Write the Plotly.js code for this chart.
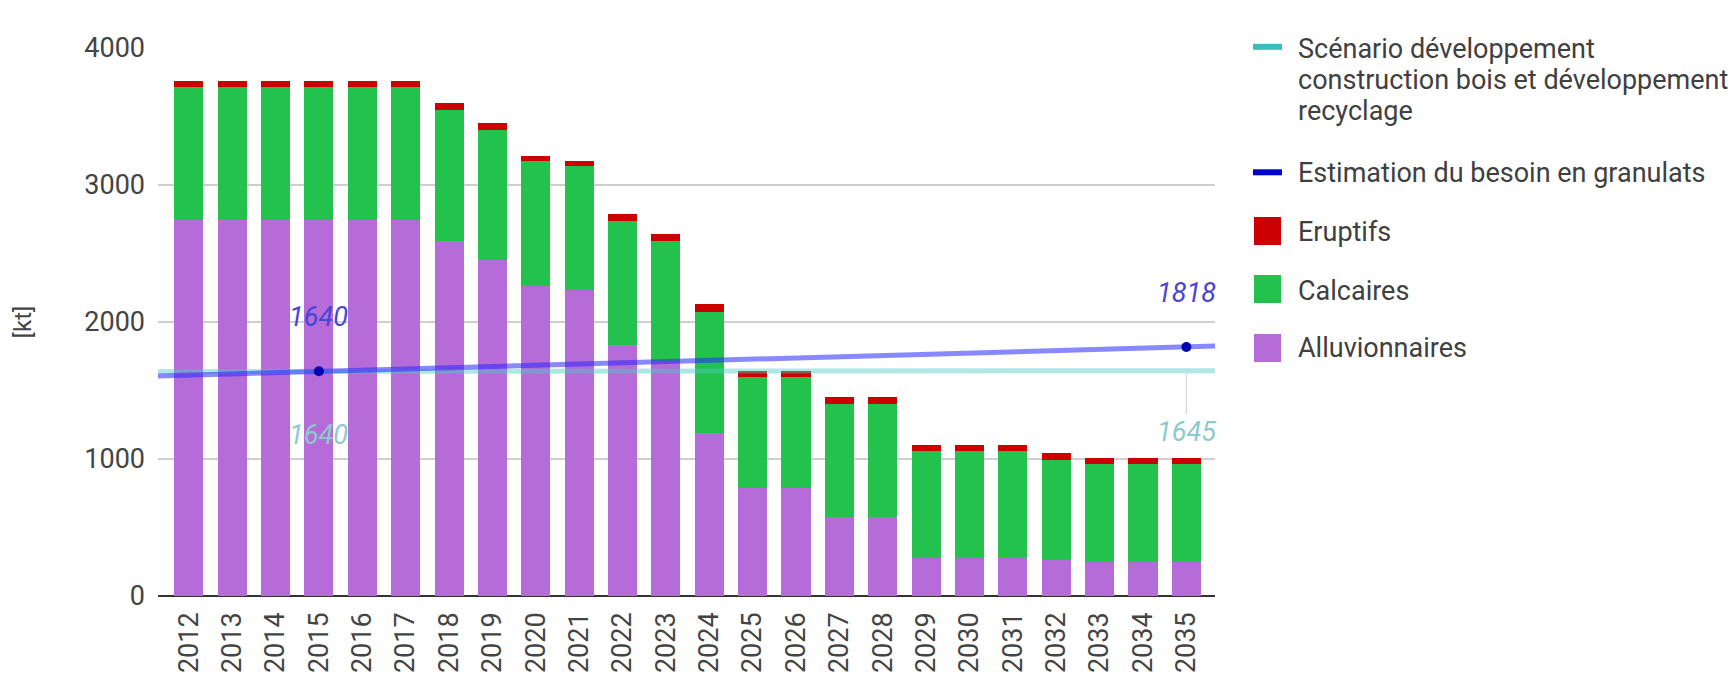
<!DOCTYPE html>
<html>
<head>
<meta charset="utf-8">
<script src="https://cdn.plot.ly/plotly-3.0.1.min.js"></script>
<style>
  html, body { margin: 0; padding: 0; background: #ffffff; }
  #chart { width: 1734px; height: 691px; }
</style>
</head>
<body>
<div id="chart"></div>
<script>
// ---------- DATA ----------
const years = [2012, 2013, 2014, 2015, 2016, 2017, 2018, 2019, 2020, 2021, 2022, 2023,
               2024, 2025, 2026, 2027, 2028, 2029, 2030, 2031, 2032, 2033, 2034, 2035];
const yearLabels = years.map(String);

const alluvionnaires = [2745, 2745, 2745, 2745, 2745, 2745, 2590, 2450, 2265, 2235, 1830, 1715,
                        1190, 785, 785, 580, 580, 275, 275, 275, 265, 250, 250, 250];
const calcaires      = [970, 970, 970, 970, 970, 970, 960, 950, 910, 905, 905, 875,
                        885, 815, 815, 825, 825, 780, 780, 780, 730, 715, 715, 715];
const eruptifs       = [45, 45, 45, 45, 45, 45, 50, 50, 35, 35, 50, 50,
                        55, 45, 45, 50, 50, 45, 45, 45, 50, 45, 45, 45];

// Labelled points of the two line series
const besoinYears    = [2015, 2035];
const besoinValues   = [1640, 1818];
const scenarioYears  = [2015, 2035];
const scenarioValues = [1640, 1645];

// Trend lines as read at (and just beyond) the chart edges
const trendYears          = [2011, 2015, 2035, 2036];
const besoinTrendValues   = [1604, 1640, 1818, 1827];
const scenarioTrendValues = [1639, 1640, 1645, 1645];

const yTicks = [0, 1000, 2000, 3000, 4000];

const seriesNames = [
  'Scénario développement construction bois et développement recyclage',
  'Estimation du besoin en granulats',
  'Eruptifs',
  'Calcaires',
  'Alluvionnaires'
];
const legendLines = [
  ['Scénario développement', 'construction bois et développement', 'recyclage'],
  ['Estimation du besoin en granulats'],
  ['Eruptifs'],
  ['Calcaires'],
  ['Alluvionnaires']
];

// ---------- STYLE ----------
const FONT = 'Roboto, Arial, sans-serif';
const colors = {
  scenario: '#3dbdb8',
  scenarioLine: 'rgba(80,200,200,0.45)',
  besoin: '#0000d0',
  besoinLine: 'rgba(40,40,255,0.55)',
  besoinMarker: '#0000b0',
  eruptifs: '#cc0000',
  calcaires: '#22c24c',
  alluvionnaires: '#b56bd8'
};

const W = 1734, H = 691;
const M = { l: 158, r: 519, t: 48, b: 95 };
const PW = W - M.l - M.r, PH = H - M.t - M.b;
const px = x => (x - M.l) / PW;
const py = y => (H - M.b - y) / PH;

// ---------- TRACES ----------
const barWidth = 0.67;
const traces = [
  { type: 'bar', name: seriesNames[4], x: years, y: alluvionnaires, width: barWidth,
    marker: { color: colors.alluvionnaires, line: { width: 0 } }, hoverinfo: 'x+y+name' },
  { type: 'bar', name: seriesNames[3], x: years, y: calcaires, width: barWidth,
    marker: { color: colors.calcaires, line: { width: 0 } }, hoverinfo: 'x+y+name' },
  { type: 'bar', name: seriesNames[2], x: years, y: eruptifs, width: barWidth,
    marker: { color: colors.eruptifs, line: { width: 0 } }, hoverinfo: 'x+y+name' },
  { type: 'scatter', mode: 'lines', name: seriesNames[0], x: trendYears, y: scenarioTrendValues,
    line: { color: colors.scenarioLine, width: 5 }, hoverinfo: 'skip' },
  { type: 'scatter', mode: 'lines', name: seriesNames[1], x: trendYears, y: besoinTrendValues,
    line: { color: colors.besoinLine, width: 5 }, hoverinfo: 'skip' },
  { type: 'scatter', mode: 'markers', name: seriesNames[1], x: besoinYears, y: besoinValues,
    marker: { color: colors.besoinMarker, size: 10 } }
];

// ---------- ANNOTATIONS ----------
const annFontBlue = { family: FONT, size: 27, color: '#4646d2', style: 'italic' };
const annFontCyan = { family: FONT, size: 27, color: '#8ccbcb', style: 'italic' };
const annotations = [];
besoinYears.forEach((yr, i) => {
  annotations.push({ xref: 'x', yref: 'y', x: yr, y: besoinValues[i], text: String(besoinValues[i]),
    showarrow: false, xanchor: 'center', yanchor: 'middle', yshift: 54, font: annFontBlue });
});
scenarioYears.forEach((yr, i) => {
  const last = i === scenarioYears.length - 1;
  if (last) {
    annotations.push({ xref: 'x', yref: 'y', x: yr, y: scenarioValues[i], text: String(scenarioValues[i]),
      showarrow: true, arrowhead: 0, arrowwidth: 1.5, arrowcolor: '#dcdcdc', ax: 0, ay: 61,
      xanchor: 'center', yanchor: 'middle', font: annFontCyan });
  } else {
    annotations.push({ xref: 'x', yref: 'y', x: yr, y: scenarioValues[i], text: String(scenarioValues[i]),
      showarrow: false, xanchor: 'center', yanchor: 'middle', yshift: -64, font: annFontCyan });
  }
});

// ---------- CUSTOM LEGEND ----------
const legendColors = [colors.scenario, colors.besoin, colors.eruptifs, colors.calcaires, colors.alluvionnaires];
const legendKinds = ['line', 'line', 'box', 'box', 'box'];
const legendTextY = [48.5, 173.3, 232.5, 291, 348.5];
const legendSymbolY = [46.8, 172.3, 231, 289, 348];
const legendLineStep = 31.25;
const shapes = [];
legendLines.forEach((lines, i) => {
  const sy = legendSymbolY[i];
  if (legendKinds[i] === 'line') {
    shapes.push({ type: 'rect', xref: 'paper', yref: 'paper',
      x0: px(1253), x1: px(1282), y0: py(sy + 3), y1: py(sy - 3),
      fillcolor: legendColors[i], line: { width: 0 } });
  } else {
    shapes.push({ type: 'rect', xref: 'paper', yref: 'paper',
      x0: px(1254), x1: px(1281), y0: py(sy + 14), y1: py(sy - 14),
      fillcolor: legendColors[i], line: { width: 0 } });
  }
  lines.forEach((t, k) => {
    annotations.push({ xref: 'paper', yref: 'paper', x: px(1296), y: py(legendTextY[i] + k * legendLineStep),
      text: t, showarrow: false, xanchor: 'left', yanchor: 'middle',
      font: { family: FONT, size: 27, color: '#404040' } });
  });
});

// ---------- LAYOUT ----------
const layout = {
  width: W, height: H,
  margin: { l: M.l, r: M.r, t: M.t, b: M.b, pad: 0 },
  paper_bgcolor: '#ffffff', plot_bgcolor: '#ffffff',
  barmode: 'stack',
  showlegend: false,
  font: { family: FONT, color: '#444444' },
  xaxis: {
    type: 'linear', range: [2011.29, 2035.66], fixedrange: true,
    tickmode: 'array', tickvals: years, ticktext: yearLabels,
    tickangle: -90, tickfont: { family: FONT, size: 27, color: '#444444' },
    showgrid: false, zeroline: false, showline: false, ticks: '',
    ticklabelstandoff: 10
  },
  yaxis: {
    range: [0, 4000], fixedrange: true,
    tickmode: 'array', tickvals: yTicks, ticktext: yTicks.map(String),
    tickfont: { family: FONT, size: 27, color: '#444444' },
    gridcolor: '#cfcfcf', gridwidth: 2,
    zeroline: true, zerolinecolor: '#333333', zerolinewidth: 2,
    showline: false, ticks: '', ticklabelstandoff: 12,
    title: { text: '[kt]', font: { family: FONT, size: 24, color: '#444444' }, standoff: 45 }
  },
  annotations: annotations,
  shapes: shapes
};

Plotly.newPlot('chart', traces, layout, { displayModeBar: false, staticPlot: true });
</script>
</body>
</html>
